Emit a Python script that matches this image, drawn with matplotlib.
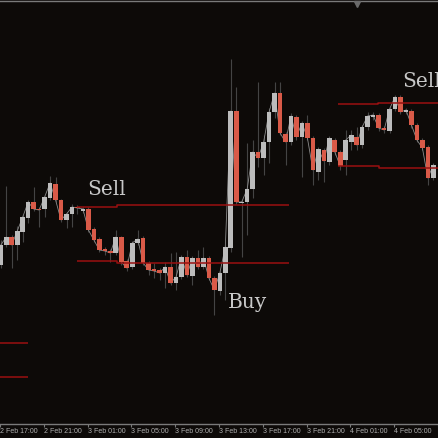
"""
Candle chart with signal levels, MT4 style dark screen
"""
import pandas as pd
import matplotlib
matplotlib.use("Agg")
import matplotlib.pyplot as plt
import matplotlib.transforms as mtransforms

# 30 minute candles, prices in chart units
opens = [175, 195, 203, 195, 208, 222, 238, 231, 231, 242,
         256, 240, 220, 226, 233, 229, 231, 211, 201, 191,
         189, 187, 203, 179, 173, 197, 202, 177, 171, 170,
         167, 173, 157, 163, 183, 164, 182, 173, 182, 162,
         149, 167, 192, 329, 237, 238, 251, 288, 282, 298,
         328, 347, 306, 298, 323, 303, 317, 302, 268, 290,
         278, 300, 288, 280, 298, 303, 295, 313, 323, 325,
         312, 309, 331, 343, 328, 329, 315, 300, 293, 262]
closes = [195, 203, 195, 209, 223, 238, 231, 230, 243, 257,
          240, 220, 226, 233, 232, 231, 210, 200, 190, 189,
          187, 203, 178, 172, 197, 201, 177, 170, 169, 167,
          173, 157, 163, 183, 165, 182, 173, 182, 162, 150,
          167, 193, 329, 238, 238, 251, 288, 282, 298, 328,
          347, 307, 298, 324, 303, 317, 302, 270, 291, 279,
          302, 288, 274, 300, 305, 295, 313, 324, 325, 312,
          310, 331, 343, 328, 330, 315, 300, 292, 262, 275]
highs = [200, 254, 205, 214, 225, 240, 253, 233, 244, 264,
         263, 241, 228, 236, 235, 233, 233, 213, 203, 193,
         191, 210, 204, 181, 199, 210, 204, 179, 177, 172,
         178, 187, 188, 185, 190, 184, 190, 193, 184, 164,
         169, 195, 381, 353, 240, 297, 300, 358, 305, 332,
         358, 358, 308, 327, 325, 319, 325, 304, 293, 292,
         304, 302, 290, 310, 310, 313, 315, 328, 328, 327,
         314, 333, 345, 345, 332, 331, 317, 302, 295, 277]
lows = [172, 193, 172, 180, 198, 217, 229, 213, 223, 240,
        238, 218, 212, 213, 226, 227, 208, 198, 188, 185,
        178, 185, 175, 169, 171, 195, 175, 165, 162, 160,
        152, 155, 150, 161, 163, 155, 171, 171, 160, 125,
        145, 140, 188, 236, 183, 205, 242, 273, 265, 277,
        322, 305, 275, 295, 300, 263, 300, 255, 260, 258,
        275, 285, 270, 265, 290, 290, 292, 310, 320, 309,
        307, 307, 329, 326, 326, 312, 298, 290, 255, 260]

tick_idx = [0, 8, 16, 24, 32, 40, 48, 56, 64, 72, 80]
tick_labels = ["2 Feb 17:00", "2 Feb 21:00", "3 Feb 01:00", "3 Feb 05:00",
               "3 Feb 09:00", "3 Feb 13:00", "3 Feb 17:00", "3 Feb 21:00",
               "4 Feb 01:00", "4 Feb 05:00", "4 Feb 09:00"]

# signal levels: (from candle, to candle, price)
level_segments = [
    [(-1, 5, 97)],
    [(-1, 5, 63)],
    [(14, 21.2, 233.5), (21.2, 52.6, 235.5)],
    [(14, 21.3, 179), (21.3, 52.6, 177)],
    [(61.5, 68.8, 335.7), (68.8, 80, 337.5)],
    [(61.5, 69, 274), (69, 80, 271.7)],
]

signal_names = ["Sell", "Buy", "Sell"]
signal_idx = [15.7, 41.5, 73.4]
signal_price = [245, 132, 353]

BG = "#0d0a08"
UP = "#bcbcbc"
DOWN = "#d95a48"
WICK = "#444444"
LEVEL = "#9a1010"

df = pd.DataFrame({"open": opens, "high": highs, "low": lows, "close": closes})
df["up"] = df["close"] >= df["open"]

fig = plt.figure(figsize=(4.38, 4.38), dpi=100, facecolor=BG)
ax = fig.add_axes([0, 14 / 438, 1, 423 / 438])
ax.set_facecolor(BG)

# wicks
ax.vlines(df.index, df["low"], df["high"], color=WICK, linewidth=0.8, zorder=1)
# close line
ax.plot(df.index, df["close"], color="#8c8c8c", linewidth=0.6, zorder=2)
# bodies
bottoms = df[["open", "close"]].min(axis=1)
heights = (df["close"] - df["open"]).abs().clip(lower=1.2)
colors = [UP if u else DOWN for u in df["up"]]
ax.bar(df.index, heights, width=0.84, bottom=bottoms, color=colors,
       linewidth=0, zorder=3)

# signal levels
for segs in level_segments:
    xs, ys = [], []
    for x0, x1, p in segs:
        xs += [x0, x1]
        ys += [p, p]
    ax.plot(xs, ys, color=LEVEL, linewidth=1.1, zorder=4,
            solid_capstyle="butt")

for name, i, p in zip(signal_names, signal_idx, signal_price):
    ax.text(i, p, name, color="#c8c8c8", fontsize=14.5, family="DejaVu Serif",
            ha="left", va="baseline", zorder=5)

ax.set_xlim(0.0909, 79.73)
ax.set_ylim(16, 439)

ax.set_xticks([t - 0.15 for t in tick_idx])
ax.set_xticklabels(tick_labels, ha="left", fontsize=5.0,
                   family="Liberation Sans")
ax.tick_params(axis="x", colors="#7a7a7a", length=2, width=0.8, pad=1,
               labelcolor="#b0b0b0")
ax.set_yticks([])
for side in ["left", "right"]:
    ax.spines[side].set_visible(False)
for side in ["top", "bottom"]:
    ax.spines[side].set_color("#7a7a7a")
    ax.spines[side].set_linewidth(1.0)

# chart shift marker on the top edge
trans = mtransforms.blended_transform_factory(ax.transData, ax.transAxes)
ax.plot([65], [0.993], marker="v", markersize=4, color="#6a6a6a",
        transform=trans, clip_on=False, zorder=6)

fig.savefig("out.png", dpi=100, facecolor=BG)
